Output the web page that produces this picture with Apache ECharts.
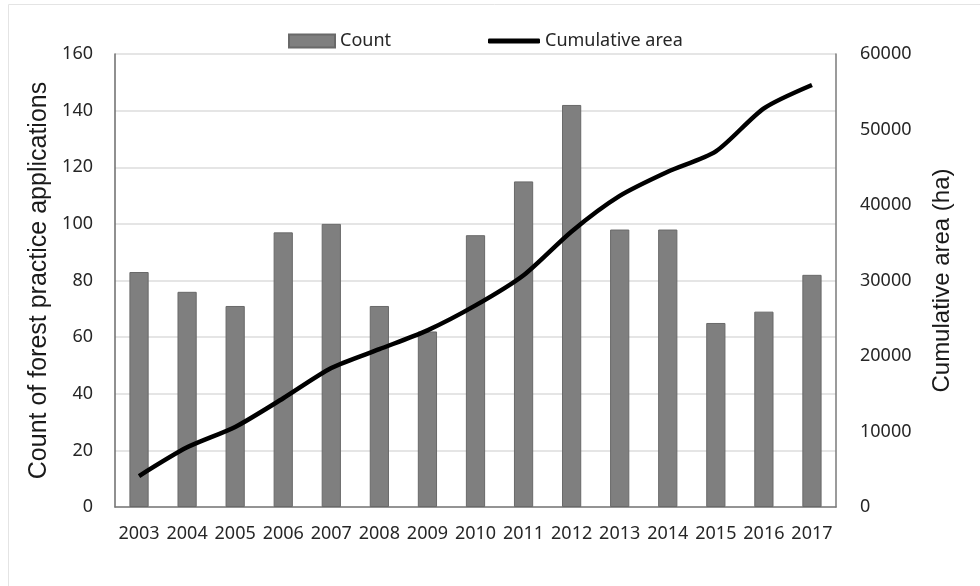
<!DOCTYPE html>
<html>
<head>
<meta charset="utf-8">
<script src="https://cdn.jsdelivr.net/npm/echarts@6/dist/echarts.min.js"></script>
<style>
  html, body { margin: 0; padding: 0; background: #fff; }
  #chart { width: 980px; height: 586px; }
</style>
</head>
<body>
<div id="chart"></div>
<script>
// Years on the category axis
const years = ['2003','2004','2005','2006','2007','2008','2009','2010','2011','2012','2013','2014','2015','2016','2017'];
// Number of forest practice applications per year
const counts = [83, 76, 71, 97, 100, 71, 62, 96, 115, 142, 98, 98, 65, 69, 82];
// Cumulative area covered (ha)
const cumulativeArea = [4100, 7900, 10600, 14400, 18400, 20900, 23400, 26700, 30700, 36500, 41200, 44400, 47100, 52800, 55900];

const tickFont = { fontFamily: 'Noto Sans', fontSize: 18, color: '#262626' };

const chart = echarts.init(document.getElementById('chart'), null, { renderer: 'canvas' });
chart.setOption({
  backgroundColor: '#ffffff',
  animation: false,
  graphic: [{
    type: 'rect',
    shape: { x: 8.5, y: 4.5, width: 1000, height: 600 },
    style: { fill: 'none', stroke: '#e4e4e4', lineWidth: 1 },
    silent: true
  }],
  legend: [{
    data: [{ name: 'Count', icon: 'rect' }],
    left: 283, top: 27,
    itemWidth: 46, itemHeight: 13, itemGap: 5,
    textStyle: { fontFamily: 'Noto Sans', fontSize: 18, color: '#262626' }
  }, {
    data: [{ name: 'Cumulative area', icon: 'roundRect' }],
    left: 483, top: 27,
    itemWidth: 52, itemHeight: 5,
    textStyle: { fontFamily: 'Noto Sans', fontSize: 18, color: '#262626' }
  }],
  grid: { left: 115, right: 144, top: 54, bottom: 79, containLabel: false },
  xAxis: {
    type: 'category',
    data: years,
    axisLine: { show: true, lineStyle: { color: '#7a7a7a', width: 1.5 } },
    axisTick: { show: false },
    axisLabel: Object.assign({ margin: 18, interval: 0 }, tickFont),
    splitLine: { show: false }
  },
  yAxis: [{
    type: 'value',
    min: 0, max: 160, interval: 20,
    name: 'Count of forest practice applications',
    nameLocation: 'middle',
    nameGap: 54,
    nameTextStyle: { fontFamily: 'Liberation Sans', fontSize: 25, color: '#1a1a1a' },
    axisLine: { show: true, lineStyle: { color: '#6b6b6b', width: 1.5 } },
    axisTick: { show: false },
    axisLabel: Object.assign({ margin: 22 }, tickFont),
    splitLine: { show: true, lineStyle: { color: '#dcdcdc', width: 1.5 } }
  }, {
    type: 'value',
    min: 0, max: 60000, interval: 10000,
    name: 'Cumulative area (ha)',
    nameLocation: 'middle',
    nameGap: 94,
    nameTextStyle: { fontFamily: 'Liberation Sans', fontSize: 24, color: '#1a1a1a' },
    axisLine: { show: true, lineStyle: { color: '#7a7a7a', width: 1.5 } },
    axisTick: { show: false },
    axisLabel: Object.assign({ margin: 24, formatter: v => String(v) }, tickFont),
    splitLine: { show: false }
  }],
  series: [{
    name: 'Count',
    type: 'bar',
    yAxisIndex: 0,
    data: counts,
    barWidth: '40%',
    itemStyle: { color: '#7f7f7f', borderColor: '#696969', borderWidth: 1 }
  }, {
    name: 'Cumulative area',
    type: 'line',
    yAxisIndex: 1,
    data: cumulativeArea,
    smooth: 0.25,
    symbol: 'none',
    lineStyle: { color: '#000000', width: 4.5 },
    itemStyle: { color: '#000000' }
  }]
});
</script>
</body>
</html>
